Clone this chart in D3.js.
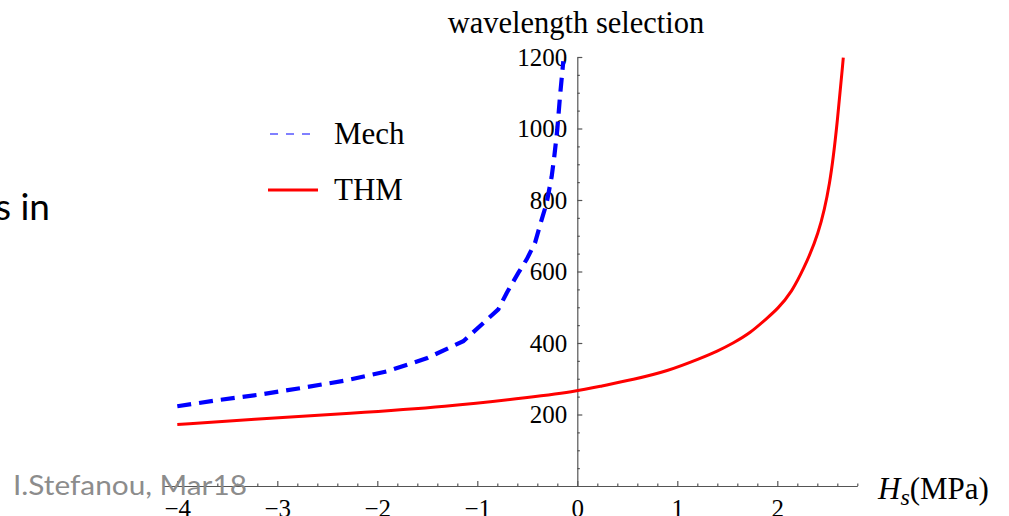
<!DOCTYPE html>
<html>
<head>
<meta charset="utf-8">
<script src="https://cdn.jsdelivr.net/npm/d3@7"></script>
<style>
  html, body { margin: 0; padding: 0; background: #fff; }
  svg { display: block; }
</style>
</head>
<body>
<svg id="chart" width="1009" height="516"></svg>
<script>
// ---- data ----
const mechX = [-4.0, -3.6, -3.17, -2.74, -2.3, -1.9, -1.5, -1.14, -0.79, -0.706, -0.59, -0.506, -0.423, -0.366, -0.306, -0.256, -0.23, -0.2, -0.173, -0.14];
const mechY = [223, 240, 256, 275, 296, 321, 358, 405, 494, 540, 596, 634, 680, 736, 792, 866, 922, 997, 1090, 1188];
const thmX = [-4.0, -3.27, -2.27, -1.27, -0.6, 0, 0.23, 0.56, 0.9, 1.23, 1.4, 1.56, 1.73, 1.89, 2.0, 2.15, 2.26, 2.41, 2.53, 2.6, 2.66];
const thmY = [172, 186, 203, 223, 244, 265, 279, 298, 321, 357, 377, 400, 428, 468, 494, 545, 606, 699, 843, 1016, 1198];
const xMajor = [-4, -3, -2, -1, 0, 1, 2];
const yMajor = [200, 400, 600, 800, 1000, 1200];
const seriesNames = ["Mech", "THM"];
const titleText = "wavelength selection";

// ---- layout ----
const svg = d3.select("#chart");
const serif = "'Liberation Serif', 'Times New Roman', serif";
const x = d3.scaleLinear().domain([-4.14, 2.8]).range([163.3, 857.3]);
const y = d3.scaleLinear().domain([0, 1200]).range([486, 57]);
const axisColor = "#555";

// slide fragments
svg.append("text").attr("x", 50).attr("y", 220).attr("text-anchor", "end")
  .attr("font-family", "Lato, 'Open Sans', sans-serif").attr("font-size", 37)
  .attr("fill", "#000").text("s in");

// title
svg.append("text").attr("x", 576).attr("y", 33).attr("text-anchor", "middle")
  .attr("font-family", serif).attr("font-size", 30.5).attr("fill", "#000")
  .text(titleText);

// x axis (ticks pointing up)
const xMinor = d3.range(-4, 2.81, 0.2).map(v => Math.round(v * 10) / 10)
  .filter(v => !xMajor.includes(v));
const gxMinor = svg.append("g").attr("transform", `translate(0,${y(0)})`)
  .call(d3.axisBottom(x).tickValues(xMinor).tickSizeInner(-2.5).tickSizeOuter(0).tickFormat(""));
const gx = svg.append("g").attr("transform", `translate(0,${y(0)})`)
  .call(d3.axisBottom(x).tickValues(xMajor).tickSizeInner(-5).tickSizeOuter(0).tickPadding(13)
    .tickFormat(d3.format("d")));
gxMinor.select(".domain").remove();

// y axis (ticks pointing right)
const yMinor = d3.range(50, 1201, 50).filter(v => !yMajor.includes(v));
const gyMinor = svg.append("g").attr("transform", `translate(${x(0)},0)`)
  .call(d3.axisLeft(y).tickValues(yMinor).tickSizeInner(-2.5).tickSizeOuter(0).tickFormat(""));
const gy = svg.append("g").attr("transform", `translate(${x(0)},0)`)
  .call(d3.axisLeft(y).tickValues(yMajor).tickSizeInner(-5).tickSizeOuter(0).tickPadding(10)
    .tickFormat(d3.format("d")));
gyMinor.select(".domain").remove();

[gx, gy, gxMinor, gyMinor].forEach(g => {
  g.selectAll("path, line").attr("stroke", axisColor).attr("stroke-width", 1.2);
  g.selectAll("text").attr("font-family", serif).attr("font-size", 25).attr("fill", "#000");
});

// axis label
const xl = svg.append("text").attr("x", 878).attr("y", 499)
  .attr("font-family", serif).attr("font-size", 31).attr("fill", "#000");
xl.append("tspan").attr("font-style", "italic").text("H");
xl.append("tspan").attr("font-style", "italic").attr("font-size", 24).attr("dy", 6).text("s");
xl.append("tspan").attr("dy", -6).text("(MPa)");

// lines
const thmLine = d3.line().x(d => x(d[0])).y(d => y(d[1])).curve(d3.curveBasis);
const mechLine = d3.line().x(d => x(d[0])).y(d => y(d[1]));
const mech = mechX.map((v, i) => [v, mechY[i]]);
const thm = thmX.map((v, i) => [v, thmY[i]]);

svg.append("path").datum(thm).attr("d", thmLine)
  .attr("fill", "none").attr("stroke", "#ff0000").attr("stroke-width", 3);
svg.append("path").datum(mech).attr("d", mechLine)
  .attr("fill", "none").attr("stroke", "#0000ff").attr("stroke-width", 4.2)
  .attr("stroke-dasharray", "14,8");

// legend
const legend = svg.append("g");
legend.append("line").attr("x1", 270).attr("x2", 318).attr("y1", 134).attr("y2", 134)
  .attr("stroke", "#8080ff").attr("stroke-width", 2).attr("stroke-dasharray", "8,8");
legend.append("line").attr("x1", 268).attr("x2", 318).attr("y1", 190).attr("y2", 190)
  .attr("stroke", "#ff0000").attr("stroke-width", 3);
legend.append("text").attr("x", 334).attr("y", 144).attr("font-family", serif)
  .attr("font-size", 31).attr("fill", "#000").text(seriesNames[0]);
legend.append("text").attr("x", 334).attr("y", 200).attr("font-family", serif)
  .attr("font-size", 31).attr("fill", "#000").text(seriesNames[1]);

// footer
svg.append("text").attr("x", 13).attr("y", 495)
  .attr("font-family", "Lato, 'Open Sans', sans-serif").attr("font-size", 26)
  .attr("fill", "#8c8c8c").attr("textLength", 234).attr("lengthAdjust", "spacingAndGlyphs")
  .text("I.Stefanou, Mar18");
</script>
</body>
</html>
